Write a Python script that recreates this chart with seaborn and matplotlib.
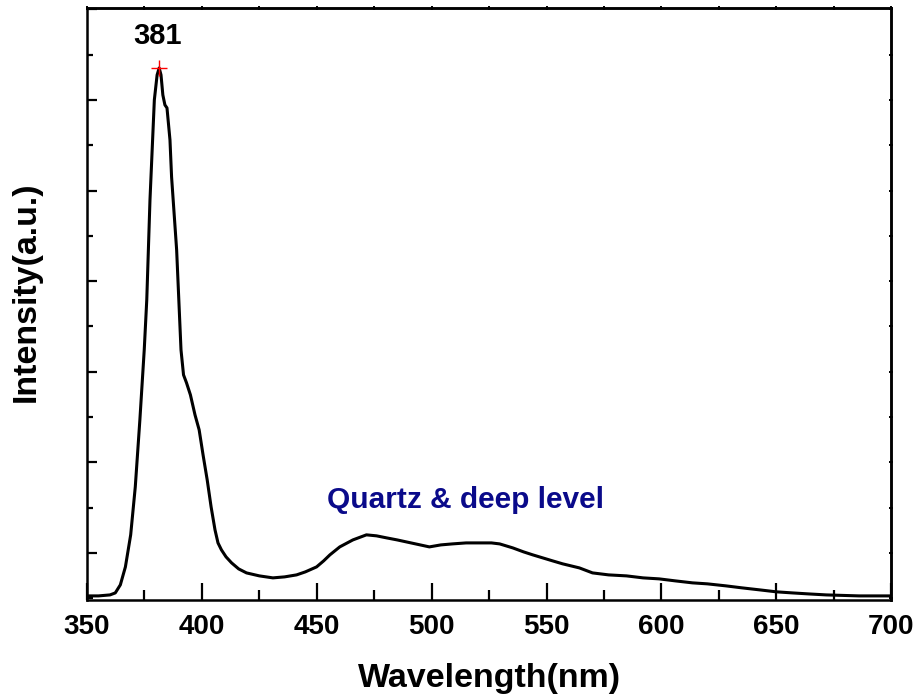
import matplotlib
matplotlib.use("Agg")
import matplotlib.pyplot as plt
import seaborn as sns
import pandas as pd
from matplotlib.ticker import MultipleLocator, NullFormatter

sns.set_style("ticks")
plt.rcParams['font.family'] = ['Liberation Sans', 'DejaVu Sans']
plt.rcParams['font.weight'] = 'bold'
plt.rcParams['text.color'] = 'black'
plt.rcParams['axes.labelcolor'] = 'black'
plt.rcParams['xtick.color'] = 'black'
plt.rcParams['ytick.color'] = 'black'
plt.rcParams['axes.edgecolor'] = 'black'

wavelength = [350, 355, 360, 362.3, 364.5, 366.7, 369, 371, 373, 374.9, 376, 377.4,
              379.3, 380.5, 381.4, 382.2, 383, 383.9, 384.8, 386.1, 386.8, 389, 390.9,
              392, 393.3, 395, 397, 398.8, 400.5, 402.3, 404, 405.7, 407, 408.5, 410.5,
              412.9, 416, 419.4, 425, 430.9, 436, 441.2, 445, 449.9, 453, 455.7, 460,
              465.7, 471.6, 476, 480.3, 485, 489, 495, 499, 504, 509, 515, 520.9, 526,
              529.6, 535.3, 540, 544, 552.6, 557, 564.3, 570, 577, 584.8, 592, 599, 606,
              613.5, 620, 628, 635, 642.6, 650, 657, 664, 671.7, 686, 700]
intensity = [525, 525, 536, 558, 647, 845, 1199, 1728, 2468, 3241, 3793, 4897,
             6001, 6276, 6353, 6276, 6055, 5945, 5912, 5559, 5150, 4345, 3241,
             2965, 2877, 2744, 2523, 2358, 2082, 1806, 1508, 1254, 1110, 1033, 956,
             890, 823, 779, 746, 724, 735, 757, 790, 845, 912, 978, 1066,
             1143, 1199, 1188, 1166, 1143, 1121, 1088, 1066, 1088, 1099, 1110, 1110, 1110,
             1099, 1055, 1011, 978, 912, 879, 834, 779, 757, 746, 724, 713, 691,
             669, 658, 636, 614, 592, 570, 558, 547, 536, 525, 525]

peak_x = [381.4]
peak_y = [6353]
peak_label = "381"
band_label = "Quartz & deep level"

df = pd.DataFrame({"Wavelength": wavelength, "Intensity": intensity})

fig = plt.figure(figsize=(9.18, 6.97), dpi=100)
ax = fig.add_axes([0.0948, 0.1392, 0.876, 0.8493])

sns.lineplot(data=df, x="Wavelength", y="Intensity", ax=ax, color="black",
             linewidth=2.2, estimator=None, sort=False)
ax.plot(peak_x, peak_y, marker="+", color="red", markersize=11, mew=1.0, ls="none")

ax.set_xlim(350, 700)
ax.set_ylim(480, 7015)
ax.xaxis.set_major_locator(MultipleLocator(50))
ax.xaxis.set_minor_locator(MultipleLocator(25))
ax.yaxis.set_major_locator(MultipleLocator(1000))
ax.yaxis.set_minor_locator(MultipleLocator(500))
ax.yaxis.set_major_formatter(NullFormatter())

ax.tick_params(axis='x', which='major', direction='in', length=12, width=1.6,
               labelsize=20, pad=10)
ax.tick_params(axis='x', which='minor', direction='in', length=7, width=1.6)
ax.tick_params(axis='y', which='major', direction='in', length=7, width=1.6)
ax.tick_params(axis='y', which='minor', direction='in', length=4, width=1.6)
for lab in ax.get_xticklabels():
    lab.set_fontweight('bold')

# tiny ticks on top and right spines
topx = ax.secondary_xaxis('top')
topx.xaxis.set_major_locator(MultipleLocator(25))
topx.xaxis.set_major_formatter(NullFormatter())
topx.tick_params(direction='inout', length=3, width=1.4)
topx.spines['top'].set_linewidth(1.8)
righty = ax.secondary_yaxis('right')
righty.yaxis.set_major_locator(MultipleLocator(500))
righty.yaxis.set_major_formatter(NullFormatter())
righty.tick_params(direction='inout', length=3, width=1.4)
righty.spines['right'].set_linewidth(1.8)

for s in ax.spines.values():
    s.set_linewidth(1.8)
    s.set_visible(True)

ax.set_xlabel("Wavelength(nm)", fontsize=24.5, fontweight='bold', labelpad=17)
ax.set_ylabel("Intensity(a.u.)", fontsize=24.5, fontweight='bold')
ax.yaxis.set_label_coords(-0.056, 0.52)

ax.text(380.5, 6706, peak_label, fontsize=21, fontweight='bold', ha='center',
        va='center', color='black')
ax.text(454.3, 1585, band_label, fontsize=21.5, fontweight='bold', ha='left',
        va='center', color='#0a0a8a')

fig.savefig("out.png", dpi=100)
